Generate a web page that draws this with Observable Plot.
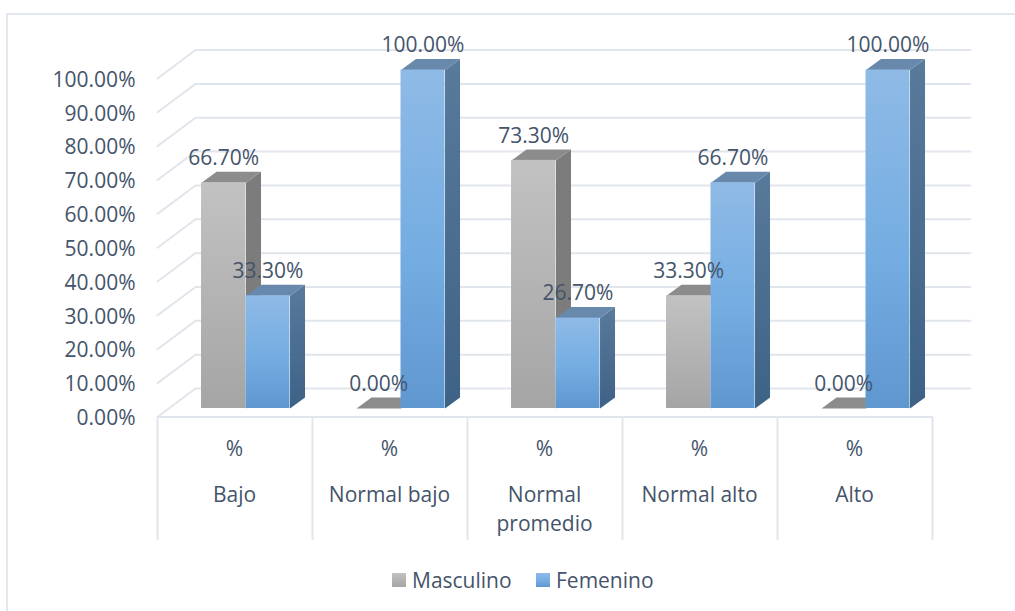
<!DOCTYPE html>
<html lang="es">
<head>
<meta charset="utf-8">
<style>
  html, body { margin: 0; padding: 0; background: #fff; width: 1015px; height: 611px; overflow: hidden; }
  #frame { position: absolute; left: 6px; top: 13px; right: 0; bottom: 0; border-left: 2px solid #e3e7ee; border-top: 2px solid #e3e7ee; }
  #chart { position: absolute; left: 0; top: 0; }
  #legend { position: absolute; left: 0; top: 565px; width: 1015px; height: 30px; font: 21px "Open Sans", sans-serif; color: #44546a; }
  #legend span { position: absolute; top: 0; line-height: 30px; white-space: nowrap; }
  #legend i { position: absolute; top: 8px; width: 14px; height: 14px; display: block; }
</style>
<script src="https://cdn.jsdelivr.net/npm/d3@7"></script>
<script src="https://cdn.jsdelivr.net/npm/@observablehq/plot@0.6"></script>
</head>
<body>
<div id="frame"></div>
<div id="chart"></div>
<div id="legend">
  <i style="left:392px;background:linear-gradient(#c2c2c2,#a5a5a5)"></i><span style="left:412px">Masculino</span>
  <i style="left:536px;background:linear-gradient(#8fbae6,#74ade2 55%,#5f97cf)"></i><span style="left:556px">Femenino</span>
</div>
<script>
const categories = ["Bajo", "Normal bajo", "Normal\npromedio", "Normal alto", "Alto"];
const subLabels = ["%", "%", "%", "%", "%"];
const masculino = [66.7, 0, 73.3, 33.3, 0];
const femenino = [33.3, 100, 26.7, 66.7, 100];
const yTicks = [0, 10, 20, 30, 40, 50, 60, 70, 80, 90, 100];

const pct = v => v.toFixed(2) + "%";
const center = i => i + 0.5;

// 3D projection constants, in scale units
const barDepthX = 15 / 155, barDepthY = 3.25;
const frontY = -2.5, backY = 5.9, backX = 38 / 155;
const barStart = [0.284, 0.571], barEnd = [0.571, 0.855];

const faces = (values, s) => {
  const rows = values.map((v, i) => ({
    i, v, x1: i + barStart[s], x2: i + barEnd[s], cat: categories[i]
  }));
  const side = rows.flatMap(r => [
    [r.x2, 0], [r.x2 + barDepthX, barDepthY],
    [r.x2 + barDepthX, r.v + barDepthY], [r.x2, r.v]
  ].map(([x, y]) => ({x, y, z: r.i})));
  const top = rows.flatMap(r => [
    [r.x1, r.v], [r.x2, r.v],
    [r.x2 + barDepthX, r.v + barDepthY], [r.x1 + barDepthX, r.v + barDepthY]
  ].map(([x, y]) => ({x, y, z: r.i})));
  return {rows, side, top};
};
const m = faces(masculino, 0), f = faces(femenino, 1);

const gridPts = yTicks.flatMap(t => [
  {x: 0, y: t + frontY, z: t},
  {x: backX, y: t + backY, z: t},
  {x: 5 + backX, y: t + backY, z: t}
]);

const defs = () => {
  const d = d3.create("svg:defs");
  const grad = (id, stops) => {
    const g = d.append("linearGradient").attr("id", id)
      .attr("x1", 0).attr("y1", 0).attr("x2", 0).attr("y2", 1);
    stops.forEach(([o, c]) => g.append("stop").attr("offset", o).attr("stop-color", c));
  };
  grad("gFront", [[0, "#c2c2c2"], [1, "#a5a5a5"]]);
  grad("bFront", [[0, "#8fbae6"], [0.55, "#74ade2"], [1, "#5f97cf"]]);
  grad("bSide", [[0, "#587a9b"], [1, "#3e6286"]]);
  return d.node();
};

const textColor = "#44546a", font = "Open Sans", size = 21;
const labelOpts = {fill: textColor, fontFamily: font, fontSize: size, stroke: "none"};

const chart = Plot.plot({
  width: 1015, height: 560,
  margin: 0,
  x: {domain: [0, 5], range: [157, 932], axis: null},
  y: {domain: [0, 100], range: [408, 69.5], axis: null},
  marks: [
    defs,
    // walls
    Plot.line(gridPts, {x: "x", y: "y", z: "z", stroke: "#e1e5ec", strokeWidth: 2, curve: "linear"}),
    Plot.ruleY([frontY], {x1: 0, x2: 5, stroke: "#e1e5ec", strokeWidth: 2}),
    Plot.ruleX(d3.range(0, 6), {y1: frontY, y2: -39, stroke: "#e1e5ec", strokeWidth: 2}),
    // tick labels
    Plot.text(yTicks, {x: 0, y: d => d + frontY, text: pct, textAnchor: "end", dx: -22, dy: 1.5, ...labelOpts}),
    // masculino
    Plot.line(m.side, {x: "x", y: "y", z: "z", fill: "#7c7c7c", stroke: "none"}),
    Plot.line(m.top, {x: "x", y: "y", z: "z", fill: "#8c8c8c", stroke: "none"}),
    Plot.rectY(m.rows, {x1: "x1", x2: "x2", y1: 0, y2: "v", fill: "url(#gFront)"}),
    // femenino
    Plot.line(f.side, {x: "x", y: "y", z: "z", fill: "url(#bSide)", stroke: "none"}),
    Plot.line(f.top, {x: "x", y: "y", z: "z", fill: "#6888ac", stroke: "none"}),
    Plot.rectY(f.rows, {x1: "x1", x2: "x2", y1: 0, y2: "v", fill: "url(#bFront)"}),
    // value labels
    Plot.text(m.rows, {x: d => (d.x1 + d.x2) / 2, y: "v", text: d => pct(d.v), dy: -24.5, ...labelOpts}),
    Plot.text(f.rows, {x: d => (d.x1 + d.x2) / 2, y: "v", text: d => pct(d.v), dy: -24.5, ...labelOpts}),
    // category axis
    Plot.text(subLabels, {x: (d, i) => center(i) - 0.003, y: 0, dy: 41, text: d => d, ...labelOpts}),
    Plot.text(categories, {x: (d, i) => center(i) - 0.003, y: 0, dy: 73, lineAnchor: "top", lineHeight: 1.38, text: d => d, ...labelOpts})
  ]
});
document.getElementById("chart").append(chart);
</script>
</body>
</html>
